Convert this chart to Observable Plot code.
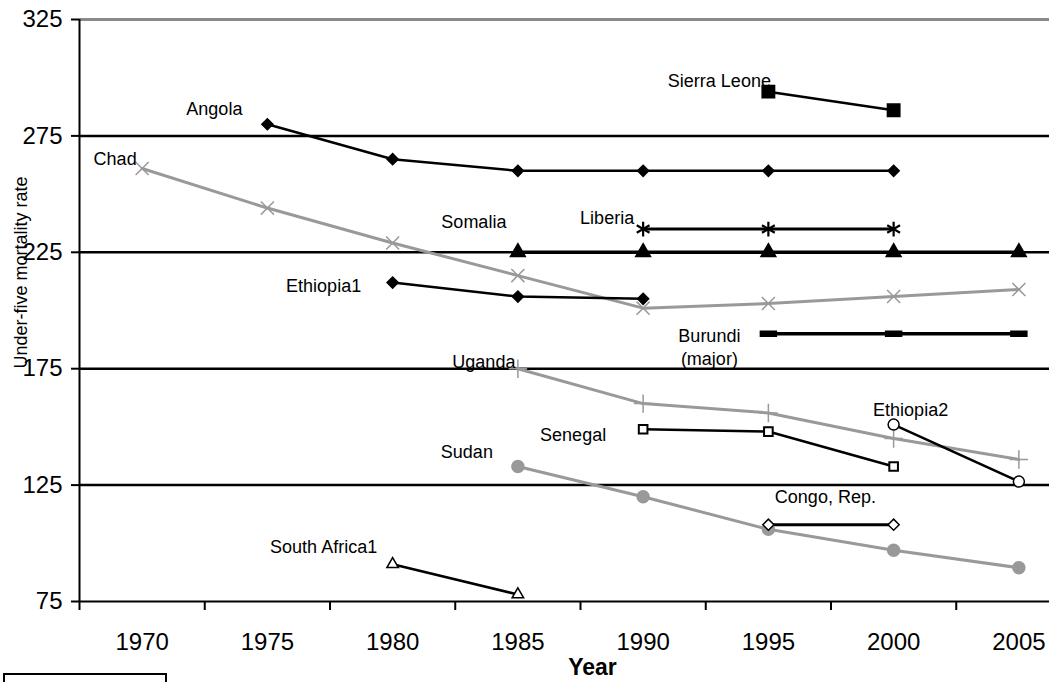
<!DOCTYPE html>
<html><head><meta charset="utf-8">
<script src="https://cdn.jsdelivr.net/npm/d3@7"></script>
<script src="https://cdn.jsdelivr.net/npm/@observablehq/plot@0.6"></script>
<style>
html,body{margin:0;padding:0;background:#fff;overflow:hidden;}
#wrap{position:relative;width:1049px;height:682px;}
#box{position:absolute;left:3px;top:673px;width:160px;height:20px;border:2px solid #000;background:#fff;}
</style></head><body><div id="wrap"><div id="box"></div></div>
<script>
// ---- data ----
const years = [1970, 1975, 1980, 1985, 1990, 1995, 2000, 2005];
const yTicks = [75, 125, 175, 225, 275, 325];
const gridValues = [125, 175, 225, 275];
const angola       = [null, 280, 265, 260, 260, 260, 260, null];
const chad         = [261, 244, 229, 215, 201, 203, 206, 209];
const sierraLeone  = [null, null, null, null, null, 294, 286, null];
const liberia      = [null, null, null, null, 235, 235, 235, null];
const somalia      = [null, null, null, 225, 225, 225, 225, 225];
const ethiopia1    = [null, null, 212, 206, 205, null, null, null];
const burundi      = [null, null, null, null, null, 190, 190, 190];
const uganda       = [null, null, null, 175, 160, 156, 145, 136];
const senegal      = [null, null, null, null, 149, 148, 133, null];
const ethiopia2    = [null, null, null, null, null, null, 151, 126.5];
const sudan        = [null, null, null, 133, 120, 106, 97, 89.5];
const congoRep     = [null, null, null, null, null, 108, 108, null];
const southAfrica1 = [null, null, 91, 78, null, null, null, null];

// ---- styles ----
const dash = {draw(ctx, size) { const w = Math.sqrt(size) * 0.75; ctx.moveTo(-w, -2.5); ctx.lineTo(w, -2.5); ctx.lineTo(w, 2.5); ctx.lineTo(-w, 2.5); ctx.closePath(); }};
const GRAY = "#999999";
const series = [
  {name: "Angola", values: angola, color: "#000", symbol: "diamond2", fill: "#000", r: 5, sw: 2.5, dx: -53, dy: -17},
  {name: "Chad", values: chad, color: GRAY, symbol: "times", fill: "none", r: 6, sw: 3, dx: -27, dy: -11},
  {name: "Sierra Leone", values: sierraLeone, color: "#000", symbol: "square", fill: "#000", r: 7, sw: 2.5, dx: -49, dy: -12},
  {name: "Liberia", values: liberia, color: "#000", symbol: "asterisk", fill: "none", r: 7, sw: 3, dx: -36, dy: -13, msw: 2.2},
  {name: "Somalia", values: somalia, color: "#000", symbol: "triangle", fill: "#000", r: 5.5, sw: 3.5, dx: -44, dy: -32},
  {name: "Ethiopia1", values: ethiopia1, color: "#000", symbol: "diamond2", fill: "#000", r: 5, sw: 2.5, dx: -69, dy: 2},
  {name: "Burundi\n(major)", values: burundi, color: "#000", symbol: dash, fill: "#000", r: 6, sw: 3.5, dx: -59, dy: 12},
  {name: "Uganda", values: uganda, color: GRAY, symbol: "plus", fill: "none", r: 6, sw: 3, dx: -34, dy: -8},
  {name: "Senegal", values: senegal, color: "#000", symbol: "square2", fill: "#fff", r: 5.5, sw: 2.5, dx: -70, dy: 4, msw: 2},
  {name: "Ethiopia2", values: ethiopia2, color: "#000", symbol: "circle", fill: "#fff", r: 5.5, sw: 2.5, dx: 17, dy: -16},
  {name: "Sudan", values: sudan, color: GRAY, symbol: "circle", fill: GRAY, r: 6, sw: 3, dx: -51, dy: -16},
  {name: "Congo, Rep.", values: congoRep, color: "#000", symbol: "diamond2", fill: "#fff", r: 5, sw: 3, dx: 57, dy: -29},
  {name: "South Africa1", values: southAfrica1, color: "#000", symbol: "triangle2", fill: "#fff", r: 5.5, sw: 2.5, dx: -69, dy: -19}
];

const rowsOf = s => years.map((year, i) => ({year, value: s.values[i]})).filter(d => d.value != null);

const marks = [
  Plot.ruleY(gridValues, {stroke: "#000", strokeWidth: 2.5}),
  Plot.ruleY([yTicks[yTicks.length - 1]], {stroke: "#8a8a8a", strokeWidth: 3}),
  Plot.ruleY([yTicks[0]], {stroke: "#000", strokeWidth: 2}),
  Plot.ruleX([years[0] - 2.5], {stroke: "#000", strokeWidth: 2}),
  Plot.axisY({ticks: yTicks, tickSize: 8, tickPadding: 9, fontSize: 24, stroke: "#000", strokeWidth: 2, label: null, tickFormat: d => d}),
  Plot.axisX({ticks: years.map(y => y - 2.5).concat([years[years.length - 1] + 2.5]), tickSize: 9, stroke: "#000", strokeWidth: 2, tickFormat: () => "", label: null}),
  Plot.axisX({ticks: years, tickSize: 0, tickPadding: 31, fontSize: 24, tickFormat: d => String(d), label: null})
];

for (const s of series) {
  marks.push(Plot.line(rowsOf(s), {x: "year", y: "value", stroke: s.color, strokeWidth: s.sw}));
}
for (const s of series) {
  marks.push(Plot.dot(rowsOf(s), {x: "year", y: "value", symbol: s.symbol, r: s.r, fill: s.fill, stroke: s.color, strokeWidth: s.msw || 1.5}));
}
for (const s of series) {
  const first = rowsOf(s)[0];
  marks.push(Plot.text([first], {x: "year", y: "value", text: () => s.name, dx: s.dx, dy: s.dy, fontSize: 18, fill: "#000", textAnchor: "middle", lineAnchor: "middle", lineHeight: 1.3}));
}
marks.push(Plot.text(["Year"], {text: d => d, frameAnchor: "bottom", dx: 28, dy: 66, fontSize: 23, fontWeight: "bold", textAnchor: "middle", lineAnchor: "middle", fill: "#000"}));
marks.push(Plot.text(["Under-five mortality rate"], {text: d => d, frameAnchor: "left", rotate: -90, dx: -58, dy: -38, fontSize: 18, textAnchor: "middle", lineAnchor: "middle", fill: "#000"}));

const chart = Plot.plot({
  width: 1049, height: 682,
  marginLeft: 79, marginRight: 0, marginTop: 19, marginBottom: 81,
  x: {domain: [years[0] - 2.5, years[years.length - 1] + 2.5], range: [79, 1081]},
  y: {domain: [yTicks[0], yTicks[yTicks.length - 1]]},
  style: {fontFamily: "'Liberation Sans', Arial, sans-serif", background: "#fff", color: "#000", overflow: "visible"},
  marks
});
document.getElementById("wrap").prepend(chart);
</script>
</body></html>
